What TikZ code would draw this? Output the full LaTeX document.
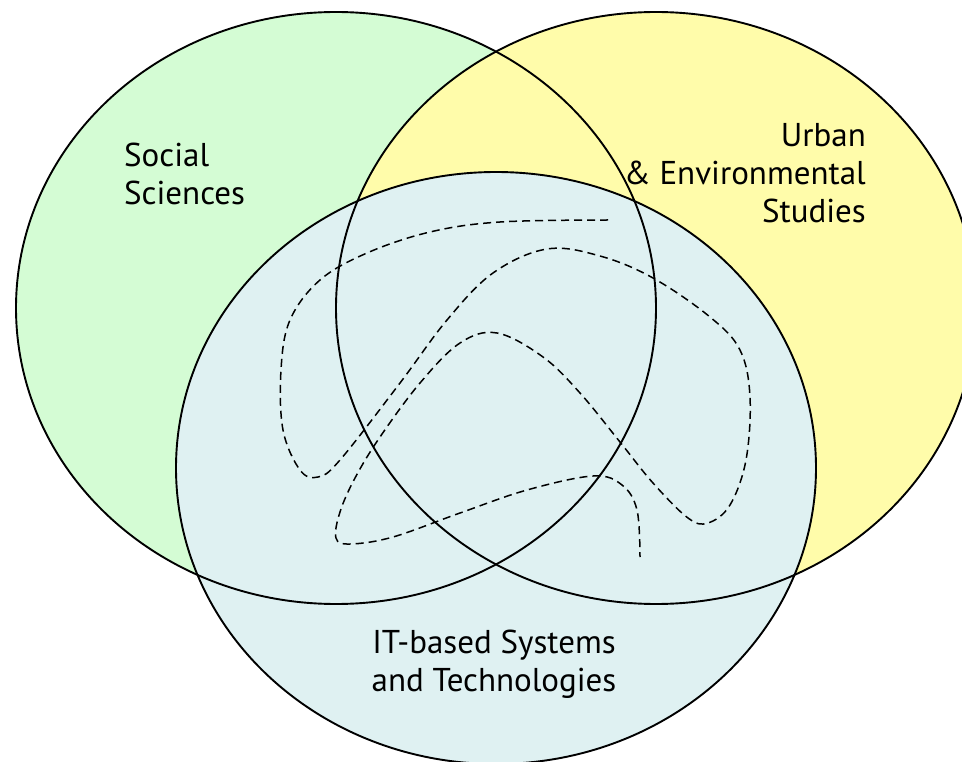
\documentclass[tikz,border=0pt]{standalone}
\usepackage{fontspec}
\setmainfont{PT Sans}
\definecolor{socgreen}{RGB}{212,252,212}
\definecolor{urbyellow}{RGB}{255,252,170}
\definecolor{itblue}{RGB}{223,241,242}
\tikzset{
  setline/.style={draw=black, line width=1.9pt},
  lbl/.style={inner sep=0pt, font=\fontsize{33}{38}\selectfont},
  wiggle/.style={draw=black, line width=1.5pt, dash pattern=on 8pt off 5pt},
}
\begin{document}
\begin{tikzpicture}[x=1pt,y=-1pt]
\useasboundingbox (0,0) rectangle (962,762);
\clip (0,0) rectangle (962,762);
\fill[white] (0,0) rectangle (962,762);
% fills
\fill[socgreen] (336,308) ellipse [x radius=320pt, y radius=296pt];
\fill[urbyellow] (656,308) ellipse [x radius=320pt, y radius=296pt];
\fill[itblue] (496,468) ellipse [x radius=320pt, y radius=296pt];
% outlines
\draw[setline] (336,308) ellipse [x radius=320pt, y radius=296pt];
\draw[setline] (656,308) ellipse [x radius=320pt, y radius=296pt];
\draw[setline] (496,468) ellipse [x radius=320pt, y radius=296pt];
% dashed path
\draw[wiggle] plot[smooth, tension=0.6] coordinates {
 (608,220) (500,222) (430,232) (367,253) (320,280) (290,320) (281,370) (283,430)
 (300,470) (318,477) (340,460) (400,383) (447,320) (493,273) (547,249) (600,256)
 (653,278) (710,317) (740,350) (750,397) (746,460) (730,505) (708,523) (688,518)
 (653,483) (620,442) (580,393) (543,357) (497,333) (460,343) (420,383) (380,437)
 (355,478) (340,512) (336,538) (350,544) (393,537) (460,513) (527,490) (593,476)
 (622,485) (637,510) (640,557)};
% labels
\node[lbl, align=left, anchor=base west] (soc) at (124,205) {Social\\Sciences};
\node[lbl, align=right, anchor=base east] (urb) at (866,223) {Urban\\\& Environmental\\Studies};
\node[lbl, align=center, anchor=base] (it) at (494,691) {IT-based Systems\\and Technologies};
\end{tikzpicture}
\end{document}
